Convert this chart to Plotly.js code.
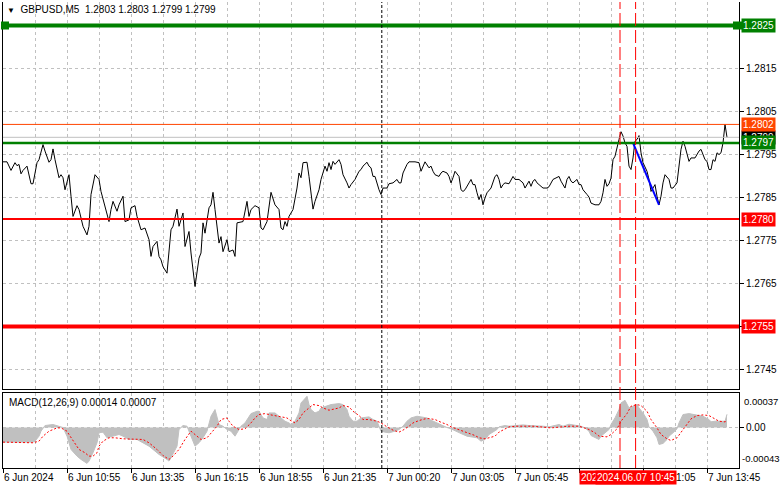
<!DOCTYPE html>
<html>
<head>
<meta charset="utf-8">
<script src="https://cdn.plot.ly/plotly-3.0.1.min.js"></script>
<style>
  html, body { margin: 0; padding: 0; background: #fff; }
  #chart { width: 781px; height: 489px; }
</style>
</head>
<body>
<div id="chart"></div>
<script>
// GBPUSD M5 line chart, close prices (bar index -> close)
const closeBars = [
  0, 2, 4, 6, 7, 8, 9, 10, 12, 13, 14, 15, 17, 18, 20, 21, 23, 24, 25, 26,
  28, 29, 30, 31, 33, 34, 35, 37, 38, 40, 42, 43, 44, 46, 48, 49, 51, 53, 54, 55,
  57, 58, 60, 61, 63, 64, 66, 67, 69, 71, 73, 74, 75, 77, 78, 79, 80, 82, 84, 85,
  87, 88, 90, 91, 93, 94, 96, 97, 98, 99, 100, 101, 103, 104, 105, 106, 108, 109, 110, 112,
  113, 115, 116, 117, 120, 122, 123, 124, 126, 128, 129, 130, 132, 134, 136, 138, 139, 140, 141, 142,
  143, 145, 147, 148, 149, 150, 152, 153, 154, 155, 156, 158, 159, 161, 162, 163, 164, 165, 166, 168,
  169, 170, 172, 173, 174, 176, 178, 179, 180, 182, 183, 184, 185, 186, 188, 189, 190, 192, 193, 195,
  197, 198, 199, 200, 202, 203, 206, 208, 209, 210, 211, 213, 214, 215, 216, 218, 219, 220, 222, 223,
  224, 225, 226, 228, 229, 230, 231, 233, 234, 235, 236, 237, 238, 239, 240, 241, 242, 244, 245, 246,
  247, 248, 249, 250, 251, 253, 255, 256, 258, 259, 260, 261, 263, 264, 265, 266, 267, 268, 270, 272,
  273, 275, 277, 278, 279, 281, 282, 283, 284, 285, 287, 288, 289, 290, 292, 293, 294, 296, 298, 299,
  300, 301, 302, 303, 304, 305, 306, 307, 308, 309, 310, 311, 312, 313, 314, 315, 316, 317, 318, 319,
  320, 322, 323, 324, 325, 326, 327, 328, 329, 330, 331, 333, 334, 335, 337, 338, 339, 340, 341, 343,
  344, 346, 348, 349, 350, 351, 352, 353, 354, 355, 356, 357, 358, 359, 360, 361, 362
];
const closePrices = [
  1.27933, 1.27933, 1.27913, 1.27931, 1.27924, 1.27927, 1.27905, 1.27913, 1.27923, 1.27903, 1.27882, 1.27882, 1.27931, 1.27938, 1.27973, 1.27958, 1.27932, 1.27938, 1.27963, 1.27938,
  1.27896, 1.27903, 1.27896, 1.27868, 1.27903, 1.27853, 1.27806, 1.27831, 1.27822, 1.27783, 1.27763, 1.27783, 1.27857, 1.27903, 1.27892, 1.27864, 1.27829, 1.27794, 1.27822, 1.27841,
  1.27818, 1.27833, 1.27853, 1.27794, 1.27798, 1.27826, 1.27831, 1.27806, 1.27775, 1.27779, 1.27752, 1.27713, 1.27736, 1.27748, 1.27713, 1.27705, 1.27689, 1.27674, 1.27775, 1.27783,
  1.27823, 1.27783, 1.27814, 1.27736, 1.27771, 1.27721, 1.27643, 1.27674, 1.27709, 1.27721, 1.27791, 1.27767, 1.27826, 1.27833, 1.27862, 1.27822, 1.27744, 1.27759, 1.27724, 1.27752,
  1.27724, 1.27728, 1.27713, 1.27791, 1.27794, 1.27841, 1.27806, 1.27822, 1.27831, 1.27826, 1.27779, 1.27775, 1.27794, 1.27862, 1.27833, 1.27822, 1.27779, 1.27775, 1.27794, 1.27783,
  1.27806, 1.27822, 1.27872, 1.27907, 1.27896, 1.27931, 1.27932, 1.27899, 1.27853, 1.27823, 1.27841, 1.27868, 1.27892, 1.27923, 1.27911, 1.27931, 1.27915, 1.27934, 1.27927, 1.27938,
  1.27927, 1.27903, 1.27884, 1.27872, 1.27880, 1.27892, 1.27911, 1.27915, 1.27923, 1.27932, 1.27923, 1.27919, 1.27899, 1.27899, 1.27868, 1.27857, 1.27872, 1.27872, 1.27882, 1.27884,
  1.27892, 1.27884, 1.27884, 1.27907, 1.27927, 1.27933, 1.27933, 1.27931, 1.27911, 1.27923, 1.27933, 1.27919, 1.27923, 1.27911, 1.27903, 1.27899, 1.27907, 1.27911, 1.27907, 1.27899,
  1.27884, 1.27896, 1.27911, 1.27899, 1.27868, 1.27864, 1.27868, 1.27884, 1.27892, 1.27880, 1.27880, 1.27861, 1.27845, 1.27857, 1.27833, 1.27849, 1.27861, 1.27872, 1.27884, 1.27899,
  1.27903, 1.27892, 1.27872, 1.27880, 1.27884, 1.27882, 1.27899, 1.27892, 1.27892, 1.27888, 1.27884, 1.27872, 1.27888, 1.27876, 1.27888, 1.27892, 1.27884, 1.27880, 1.27872, 1.27872,
  1.27875, 1.27892, 1.27896, 1.27899, 1.27888, 1.27872, 1.27892, 1.27899, 1.27888, 1.27884, 1.27892, 1.27880, 1.27880, 1.27868, 1.27857, 1.27851, 1.27837, 1.27833, 1.27833, 1.27841,
  1.27861, 1.27892, 1.27876, 1.27882, 1.27895, 1.27938, 1.27946, 1.27969, 1.27985, 1.28003, 1.27993, 1.27977, 1.27969, 1.27923, 1.27915, 1.27942, 1.27981, 1.27985, 1.27994, 1.27954,
  1.27931, 1.27911, 1.27892, 1.27864, 1.27872, 1.27880, 1.27853, 1.27833, 1.27853, 1.27884, 1.27903, 1.27892, 1.27872, 1.27872, 1.27884, 1.27923, 1.27962, 1.27981, 1.27969, 1.27934,
  1.27942, 1.27942, 1.27958, 1.27962, 1.27950, 1.27938, 1.27934, 1.27915, 1.27915, 1.27938, 1.27934, 1.27954, 1.27950, 1.27954, 1.27977, 1.28020, 1.27990
];

// MACD(12,26,9) main line, drawn as histogram
const histBars = [
  0, 15, 16, 18, 19, 21, 25, 28, 30, 32, 34, 37, 39, 42, 43, 45, 47, 48, 50, 52,
  55, 58, 60, 63, 67, 70, 73, 75, 78, 82, 83, 84, 87, 88, 90, 92, 93, 96, 98, 100,
  102, 103, 104, 106, 107, 108, 110, 112, 114, 116, 118, 119, 121, 123, 124, 127, 128, 130, 132, 133,
  136, 138, 139, 141, 143, 144, 146, 148, 149, 151, 152, 153, 154, 156, 158, 159, 162, 164, 168, 170,
  172, 173, 175, 177, 179, 183, 185, 187, 188, 189, 191, 193, 196, 198, 200, 202, 204, 207, 209, 212,
  214, 217, 219, 222, 224, 227, 229, 232, 234, 237, 239, 241, 243, 245, 247, 248, 251, 253, 257, 260,
  263, 267, 270, 273, 277, 278, 280, 283, 287, 289, 291, 293, 294, 296, 298, 299, 301, 303, 304, 306,
  308, 309, 311, 312, 313, 315, 317, 318, 320, 322, 323, 325, 327, 328, 330, 332, 333, 335, 337, 338,
  340, 343, 345, 348, 350, 353, 354, 356, 358, 361, 362
];
const histValues = [
  -0.000155, -0.000155, -0.000145, -0.000092, -0.000039, 0.000021, 0.000032, 0.000014, 0, -0.000092, -0.000233, -0.000304, -0.000339, -0.000381, -0.000357, -0.000268, -0.000162, -0.000056, -0.000049, -0.000109,
  -0.000092, -0.000074, -0.000092, -0.000127, -0.000127, -0.000162, -0.000198, -0.000233, -0.000286, -0.000339, -0.000357, -0.000321, -0.000198, -0.000021, 0.000021, 0.000014, -0.000039, -0.000198, -0.000162, -0.000109,
  -0.000039, 0.000049, 0.000120, 0.000191, 0.000102, 0.000032, 0.000014, -0.000021, -0.000039, -0.000092, -0.000021, 0.000014, 0.000049, 0.000120, 0.000148, 0.000173, 0.000173, 0.000102, 0.000085, 0.000155,
  0.000155, 0.000120, 0.000102, 0.000067, 0.000049, 0.000032, 0.000067, 0.000155, 0.000261, 0.000314, 0.000332, 0.000244, 0.000191, 0.000155, 0.000173, 0.000208, 0.000226, 0.000244, 0.000254, 0.000244,
  0.000191, 0.000120, 0.000067, 0.000067, 0.000102, 0.000113, 0.000085, 0.000067, 0.000014, -0.000039, -0.000049, -0.000056, -0.000039, -0.000021, 0.000014, 0.000067, 0.000102, 0.000120, 0.000113, 0.000102,
  0.000078, 0.000049, 0.000021, 0, -0.000014, -0.000039, -0.000064, -0.000092, -0.000099, -0.000109, -0.000145, -0.000127, -0.000074, -0.000050, -0.000021, 0.000007, 0.000021, 0.000014, 0.000021, 0.000028,
  0.000021, 0.000021, 0.000014, 0.000007, 0.000021, 0.000032, 0.000014, 0.000035, 0.000021, 0.000014, -0.000004, -0.000039, -0.000085, -0.000109, -0.000127, -0.000092, -0.000056, -0.000021, 0.000032, 0.000102,
  0.000191, 0.000261, 0.000289, 0.000244, 0.000208, 0.000226, 0.000244, 0.000208, 0.000155, 0.000085, 0.000007, -0.000039, -0.000109, -0.000180, -0.000169, -0.000127, -0.000092, -0.000056, -0.000014, 0.000049,
  0.000138, 0.000148, 0.000138, 0.000127, 0.000120, 0.000085, 0.000060, 0.000067, 0.000067, 0.000067, 0.000140
];

// MACD signal line
const signalBars = [
  0, 15, 18, 20, 23, 27, 29, 32, 33, 36, 38, 41, 43, 45, 47, 48, 50, 53, 56, 60,
  64, 68, 70, 73, 77, 80, 83, 85, 88, 91, 94, 97, 99, 102, 104, 107, 109, 112, 113, 115,
  118, 121, 124, 126, 128, 131, 133, 136, 139, 142, 143, 146, 148, 150, 153, 155, 158, 160, 163, 165,
  168, 170, 173, 175, 178, 180, 183, 187, 189, 192, 195, 198, 200, 203, 205, 208, 211, 213, 216, 219,
  222, 224, 228, 230, 233, 236, 238, 241, 243, 246, 248, 251, 253, 257, 260, 265, 270, 274, 278, 283,
  288, 291, 293, 296, 298, 302, 304, 307, 309, 312, 314, 317, 319, 322, 324, 327, 329, 332, 334, 337,
  339, 342, 344, 347, 350, 353, 356, 358, 361, 362
];
const signalValues = [
  -0.000155, -0.000162, -0.000145, -0.000092, -0.000039, -0.000004, -0.000004, -0.000039, -0.000074, -0.000162, -0.000233, -0.000268, -0.000304, -0.000304, -0.000268, -0.000198, -0.000145, -0.000109, -0.000109, -0.000120,
  -0.000120, -0.000120, -0.000127, -0.000162, -0.000233, -0.000297, -0.000339, -0.000304, -0.000233, -0.000127, -0.000039, -0.000092, -0.000127, -0.000109, -0.000056, 0.000014, 0.000085, 0.000102, 0.000067, 0.000014,
  -0.000021, -0.000014, 0.000049, 0.000102, 0.000138, 0.000148, 0.000138, 0.000127, 0.000120, 0.000102, 0.000085, 0.000049, 0.000085, 0.000155, 0.000208, 0.000244, 0.000233, 0.000208, 0.000184, 0.000191,
  0.000208, 0.000233, 0.000219, 0.000173, 0.000127, 0.000085, 0.000085, 0.000067, 0.000049, 0.000007, -0.000028, -0.000049, -0.000028, 0.000014, 0.000049, 0.000074, 0.000092, 0.000095, 0.000085, 0.000056,
  0.000032, 0.000007, -0.000021, -0.000039, -0.000056, -0.000085, -0.000109, -0.000120, -0.000109, -0.000092, -0.000049, -0.000014, 0.000007, 0.000014, 0.000014, 0.000014, 0.000004, -0.000004, 0.000004, 0.000014,
  0.000014, -0.000004, -0.000021, -0.000056, -0.000092, -0.000099, -0.000074, -0.000014, 0.000067, 0.000148, 0.000226, 0.000244, 0.000233, 0.000173, 0.000085, -0.000004, -0.000074, -0.000120, -0.000138, -0.000109,
  -0.000049, 0.000032, 0.000092, 0.000127, 0.000134, 0.000127, 0.000092, 0.000067, 0.000060, 0.000070
];

// time axis labels, every 32 bars ('7 Jun 08:25' sits under the red time box)
const timeTickBars = [0, 32, 64, 96, 128, 160, 192, 224, 256, 288, 320, 352];
const timeTickLabels = [
  '6 Jun 2024', '6 Jun 10:55', '6 Jun 13:35', '6 Jun 16:15', '6 Jun 18:55', '6 Jun 21:35',
  '7 Jun 00:20', '7 Jun 03:05', '7 Jun 05:45', '', '7 Jun 11:05', '7 Jun 13:45'
];

// price scale; the two outer levels cover their scale labels
const priceTicks = [1.2745, 1.2755, 1.2765, 1.2775, 1.2785, 1.2795, 1.2805, 1.2815, 1.2825];
const priceTickLabels = ['1.2745', '', '1.2765', '1.2775', '1.2785', '1.2795', '1.2805', '1.2815', ''];

// horizontal levels on the price pane
const levelPrices = [1.2825, 1.2802, 1.27977, 1.2780, 1.2755];
const levelLabels = ['1.2825', '1.2802', '1.2797', '1.2780', '1.2755'];
const bidPrice = 1.2799;
const bidLabel = '1.2799';

// blue trend line
const trendBars = [315, 328];
const trendPrices = [1.27977, 1.27833];

// vertical marker lines (bar position) and their time labels
const markerBars = [189.4, 308.5, 316.3];
const markerTimes = ['', '2024.06.07 10:05', '2024.06.07 10:45'];

const headerText = 'GBPUSD,M5  1.2803 1.2803 1.2799 1.2799';
const macdText = 'MACD(12,26,9) 0.00014 0.00007';
const macdMax = 0.00037;
const macdMin = -0.00043;

// styles
const FONT = 'Liberation Sans, Arial, sans-serif';
const GRID = '#C0C0C0';
const GRID_DASH = '3px,3px';
const levelStyles = [
  { color: '#008000', width: 4 },
  { color: '#FF4500', width: 1 },
  { color: '#008000', width: 2.5 },
  { color: '#FF0000', width: 2 },
  { color: '#FF0000', width: 4 },
];
const markerStyles = [
  { color: '#000000', dash: '3px,2px' },
  { color: '#FF0000', dash: '13px,4px' },
  { color: '#FF0000', dash: '13px,4px' },
];

const traces = [
  {
    x: histBars, y: histValues, xaxis: 'x2', yaxis: 'y2',
    type: 'scatter', mode: 'lines', fill: 'tozeroy',
    fillcolor: '#C0C0C0', line: { color: '#C0C0C0', width: 1 },
    hoverinfo: 'skip',
  },
  {
    x: signalBars, y: signalValues, xaxis: 'x2', yaxis: 'y2',
    type: 'scatter', mode: 'lines',
    line: { color: '#FF0000', width: 1, dash: '2px,2px' },
    hoverinfo: 'skip',
  },
  {
    x: closeBars, y: closePrices, xaxis: 'x', yaxis: 'y',
    type: 'scatter', mode: 'lines',
    line: { color: '#000000', width: 1 },
    hoverinfo: 'skip',
  },
  {
    x: trendBars, y: trendPrices, xaxis: 'x', yaxis: 'y',
    type: 'scatter', mode: 'lines',
    line: { color: '#0000FF', width: 2 },
    hoverinfo: 'skip',
  },
];

const shapes = [];
// current bid line
shapes.push({
  type: 'line', xref: 'x domain', x0: 0, x1: 1, yref: 'y', y0: bidPrice, y1: bidPrice,
  line: { color: '#C0C0C0', width: 1 }, layer: 'above',
});
levelPrices.forEach((p, i) => {
  shapes.push({
    type: 'line', xref: 'x domain', x0: 0, x1: 1, yref: 'y', y0: p, y1: p,
    line: { color: levelStyles[i].color, width: levelStyles[i].width }, layer: 'above',
  });
});
// selection handles on the top level line
[[0, -2, 6], [1, -6, 3]].forEach(([anchor, a, b]) => {
  shapes.push({
    type: 'rect', xref: 'x domain', xsizemode: 'pixel', xanchor: anchor, x0: a, x1: b,
    yref: 'y', ysizemode: 'pixel', yanchor: levelPrices[0], y0: -4, y1: 4,
    fillcolor: '#008000', line: { width: 0 }, layer: 'above',
  });
});
markerBars.forEach((b, i) => {
  shapes.push({
    type: 'line', xref: 'x', x0: b, x1: b, yref: 'paper', y0: 0, y1: 1,
    line: { color: markerStyles[i].color, width: 1, dash: markerStyles[i].dash }, layer: 'above',
  });
});

const annotations = [
  {
    xref: 'paper', x: 0, xanchor: 'left', xshift: 2,
    yref: 'paper', y: 1, yanchor: 'top', yshift: 0,
    text: '<span style="font-size:8px">▼</span>  ' + headerText,
    showarrow: false, font: { family: FONT, size: 10, color: '#000' },
  },
  {
    xref: 'paper', x: 0, xanchor: 'left', xshift: 4,
    yref: 'y2 domain', y: 1, yanchor: 'top', yshift: -2,
    text: macdText, showarrow: false, font: { family: FONT, size: 10, color: '#000' },
  },
  {
    xref: 'paper', x: 1, xanchor: 'left', xshift: 3,
    yref: 'y2 domain', y: 1, yanchor: 'top', yshift: -1,
    text: macdMax.toFixed(5), showarrow: false, font: { family: FONT, size: 9.5, color: '#000' },
  },
  {
    // bottom of the MACD pane is the bottom of the plot area
    xref: 'paper', x: 1, xanchor: 'left', xshift: 1,
    yref: 'paper', y: 0, yanchor: 'bottom', yshift: 2,
    text: macdMin.toFixed(5), showarrow: false, font: { family: FONT, size: 9.5, color: '#000' },
  },
  {
    xref: 'paper', x: 1, xanchor: 'left', xshift: 2,
    yref: 'y', y: bidPrice, yanchor: 'middle',
    text: bidLabel, showarrow: false, bgcolor: '#000000', borderpad: 1,
    font: { family: FONT, size: 10, color: '#fff' },
  },
];
levelPrices.forEach((p, i) => {
  annotations.push({
    xref: 'paper', x: 1, xanchor: 'left', xshift: 2,
    yref: 'y', y: p, yanchor: 'middle',
    text: levelLabels[i], showarrow: false, bgcolor: levelStyles[i].color, borderpad: 1,
    font: { family: FONT, size: 10, color: '#fff' },
  });
});
markerBars.forEach((b, i) => {
  if (!markerTimes[i]) return;
  annotations.push({
    xref: 'x2', x: b, xanchor: 'center',
    yref: 'paper', y: 0, yanchor: 'top', yshift: -2,
    text: markerTimes[i], showarrow: false, bgcolor: '#FF0000', borderpad: 1,
    font: { family: FONT, size: 10, color: '#fff' },
  });
});

const gridX = {
  range: [0, 368],
  tickmode: 'array',
  tickvals: timeTickBars,
  showgrid: true, gridcolor: GRID, griddash: GRID_DASH, gridwidth: 1,
  minor: { tickmode: 'linear', tick0: 0, dtick: 16, showgrid: true, gridcolor: GRID, griddash: GRID_DASH, gridwidth: 1 },
  zeroline: false,
  showline: true, linecolor: '#000', linewidth: 1,
  fixedrange: true,
};

const layout = {
  width: 781,
  height: 489,
  margin: { l: 3, r: 42, t: 2, b: 21 },
  paper_bgcolor: '#ffffff',
  plot_bgcolor: '#ffffff',
  showlegend: false,
  font: { family: FONT, size: 10, color: '#000' },
  xaxis: Object.assign({}, gridX, {
    anchor: 'y', domain: [0, 1], showticklabels: false, ticks: '',
  }),
  yaxis: {
    domain: [0.1685, 1],
    anchor: 'x',
    side: 'right',
    range: [1.274035, 1.283047],
    tickmode: 'array', tickvals: priceTicks, ticktext: priceTickLabels,
    ticks: 'outside', ticklen: 4, tickcolor: '#000',
    showgrid: true, gridcolor: GRID, griddash: GRID_DASH,
    zeroline: false,
    showline: true, mirror: true, linecolor: '#000', linewidth: 1,
    fixedrange: true,
  },
  xaxis2: Object.assign({}, gridX, {
    anchor: 'y2', domain: [0, 1],
    ticktext: timeTickLabels,
    ticks: 'outside', ticklen: 4, tickcolor: '#000',
    ticklabelposition: 'outside right',
    mirror: true,
  }),
  yaxis2: {
    domain: [0, 0.1616],
    anchor: 'x2',
    side: 'right',
    range: [macdMin, macdMax],
    tickmode: 'array', tickvals: [0], ticktext: ['0.00'],
    ticks: 'outside', ticklen: 4, tickcolor: '#000',
    showgrid: true, gridcolor: GRID, griddash: GRID_DASH,
    zeroline: false,
    showline: true, mirror: true, linecolor: '#000', linewidth: 1,
    fixedrange: true,
  },
  shapes: shapes,
  annotations: annotations,
};

Plotly.newPlot('chart', traces, layout, { displayModeBar: false, staticPlot: true });
</script>
</body>
</html>
